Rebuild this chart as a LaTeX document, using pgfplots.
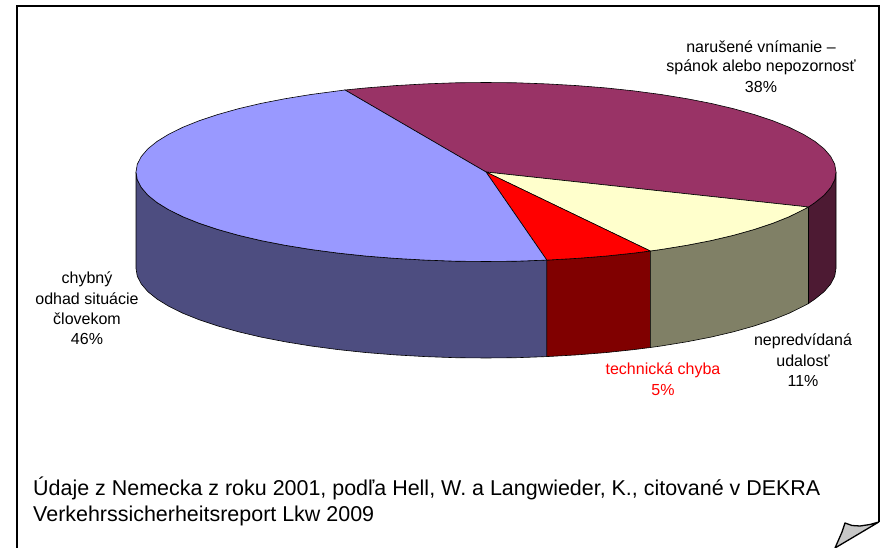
\documentclass[border=0pt]{standalone}
\usepackage{pgfplots}
\pgfplotsset{compat=1.18}
\usepackage{fontspec}
\setmainfont{Liberation Sans}
\definecolor{blueT}{HTML}{9999FF}
\definecolor{blueS}{HTML}{4D4D80}
\definecolor{maroonT}{HTML}{993366}
\definecolor{maroonS}{HTML}{4D1A33}
\definecolor{yellowT}{HTML}{FFFFCC}
\definecolor{yellowS}{HTML}{808066}
\definecolor{redT}{HTML}{FF0000}
\definecolor{redS}{HTML}{800000}
\tikzset{lab/.style={font=\fontsize{16}{19}\selectfont,align=center,inner sep=0pt},
big/.style={anchor=west,font=\fontsize{21.45}{25}\selectfont,inner sep=0pt}}
\begin{document}
\begin{tikzpicture}
\path[use as bounding box] (0,0) rectangle (883pt,548pt);
\begin{axis}[
  at={(0,0)},anchor=south west,
  scale only axis,width=883pt,height=548pt,
  xmin=0,xmax=883,ymin=0,ymax=548,y dir=reverse,
  hide axis,clip=true,
]
% sides
\addplot[fill=blueS,draw=black,line width=0.6pt] coordinates {(136,172)(137.3,179.8)(141.3,187.5)(147.9,195.2)(157.1,202.6)(168.8,209.8)(182.9,216.75)(199.3,223.3)(217.9,229.5)(238.5,235.3)(261,240.6)(285.2,245.3)(311,249.5)(338.1,253.1)(366.3,256.1)(395.4,258.4)(425.2,260.1)(455.5,261.2)(486,261.5)(516.5,261.2)(546.8,260.1)
(546.8,356.6)(516.5,357.7)(486,358)(455.5,357.7)(425.2,356.6)(395.4,354.9)(366.3,352.6)(338.1,349.6)(311,346)(285.2,341.8)(261,337.1)(238.5,331.8)(217.9,326)(199.3,319.8)(182.9,313.25)(168.8,306.3)(157.1,299.1)(147.9,291.7)(141.3,284)(137.3,276.3)(136,268.5)} -- cycle;
\addplot[fill=redS,draw=black,line width=0.6pt] coordinates {(546.8,260.1)(576.6,258.4)(605.7,256.1)(633.9,253.1)(650.3,251)
(650.3,347.5)(633.9,349.6)(605.7,352.6)(576.6,354.9)(546.8,356.6)} -- cycle;
\addplot[fill=yellowS,draw=black,line width=0.6pt] coordinates {(650.3,251)(661,249.5)(686.8,245.3)(711,240.6)(733.5,235.3)(754.1,229.5)(772.7,223.3)(789.1,216.75)(803.2,209.8)(808.5,207)
(808.5,303.5)(803.2,306.3)(789.1,313.25)(772.7,319.8)(754.1,326)(733.5,331.8)(711,337.1)(686.8,341.8)(661,346)(650.3,347.5)} -- cycle;
\addplot[fill=maroonS,draw=black,line width=0.6pt] coordinates {(808.5,207)(814.9,202.6)(824.1,195.2)(830.7,187.5)(834.7,179.8)(836,172)
(836,268.5)(834.7,276.3)(830.7,284)(824.1,291.7)(814.9,299.1)(808.5,303.5)} -- cycle;
% tops
\addplot[fill=maroonT,draw=black,line width=0.6pt] coordinates {(486,172)(345,90)(366.3,87.9)(395.4,85.6)(425.2,83.9)(455.5,82.8)(486,82.5)(516.5,82.8)(546.8,83.9)(576.6,85.6)(605.7,87.9)(633.9,90.9)(661,94.5)(686.8,98.7)(711,103.4)(733.5,108.7)(754.1,114.5)(772.7,120.7)(789.1,127.25)(803.2,134.2)(814.9,141.4)(824.1,148.8)(830.7,156.5)(834.7,164.2)(836,172)(834.7,179.8)(830.7,187.5)(824.1,195.2)(814.9,202.6)(808.5,207)} -- cycle;
\addplot[fill=yellowT,draw=black,line width=0.6pt] coordinates {(486,172)(808.5,207)(803.2,209.8)(789.1,216.75)(772.7,223.3)(754.1,229.5)(733.5,235.3)(711,240.6)(686.8,245.3)(661,249.5)(650.3,251)} -- cycle;
\addplot[fill=redT,draw=black,line width=0.6pt] coordinates {(486,172)(650.3,251)(633.9,253.1)(605.7,256.1)(576.6,258.4)(546.8,260.1)} -- cycle;
\addplot[fill=blueT,draw=black,line width=0.6pt] coordinates {(486,172)(546.8,260.1)(516.5,261.2)(486,261.5)(455.5,261.2)(425.2,260.1)(395.4,258.4)(366.3,256.1)(338.1,253.1)(311,249.5)(285.2,245.3)(261,240.6)(238.5,235.3)(217.9,229.5)(199.3,223.3)(182.9,216.75)(168.8,209.8)(157.1,202.6)(147.9,195.2)(141.3,187.5)(137.3,179.8)(136,172)(137.3,164.2)(141.3,156.5)(147.9,148.8)(157.1,141.4)(168.8,134.2)(182.9,127.25)(199.3,120.7)(217.9,114.5)(238.5,108.7)(261,103.4)(285.2,98.7)(311,94.5)(338.1,90.9)(345,90)} -- cycle;
% page frame with curl
\addplot[draw=black,line width=1.5pt] coordinates {(17,548)(17,6)(878.8,6)(878.8,522)};
\addplot[fill=black!22,draw=black,line width=1.3pt,line join=round] coordinates {(878.8,522)(870,524.5)(860,526)(852,525.5)(845,523)(842,532)(835,548)} -- cycle;
% labels
\node[lab] at (axis cs:761,47) {narušené vnímanie –};
\node[lab] at (axis cs:761,67) {spánok alebo nepozornosť};
\node[lab] at (axis cs:761,87) {38\%};
\node[lab] at (axis cs:87,279) {chybný};
\node[lab] at (axis cs:87,299) {odhad situácie};
\node[lab] at (axis cs:87,319) {človekom};
\node[lab] at (axis cs:87,339) {46\%};
\node[lab,text=red] at (axis cs:663,370) {technická chyba};
\node[lab,text=red] at (axis cs:663,390) {5\%};
\node[lab] at (axis cs:803,341) {nepredvídaná};
\node[lab] at (axis cs:803,361) {udalosť};
\node[lab] at (axis cs:803,381) {11\%};
\node[big] at (axis cs:33,488) {Údaje z Nemecka z roku 2001, podľa Hell, W. a Langwieder, K., citované v DEKRA};
\node[big] at (axis cs:33,516) {Verkehrssicherheitsreport Lkw 2009};
\end{axis}
\end{tikzpicture}
\end{document}
